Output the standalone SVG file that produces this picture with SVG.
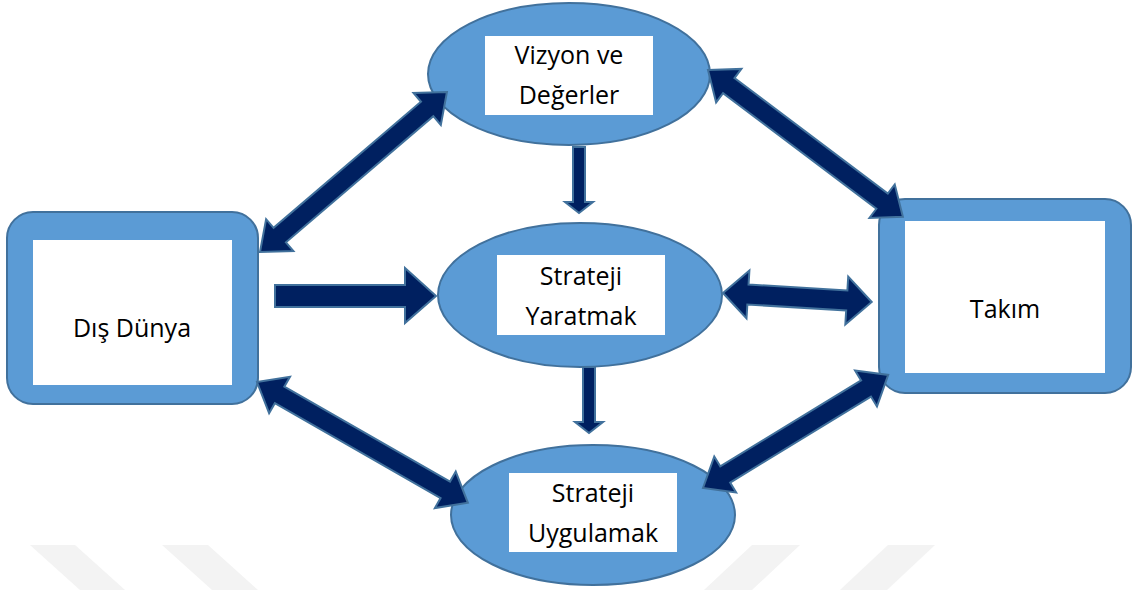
<svg xmlns="http://www.w3.org/2000/svg" width="1132" height="590" viewBox="0 0 1132 590">
  <style>
    .node { fill: #5B9BD5; stroke: #41719C; stroke-width: 2; }
    .inner { fill: #ffffff; }
    .label { font-family: "Open Sans", "Liberation Sans", sans-serif; font-size: 25px; fill: #000000; text-anchor: middle; }
    .arrow { fill: #002060; stroke: #41719C; stroke-width: 2; stroke-linejoin: miter; }
    .wm { fill: #f3f3f3; }
  </style>
  <rect width="1132" height="590" fill="#ffffff"/>
  <g id="watermark">
    <polygon class="wm" points="30,545 75,545 125,590 80,590"/>
    <polygon class="wm" points="162,545 208,545 258,590 212,590"/>
    <polygon class="wm" points="752,545 800,545 752,590 704,590"/>
    <polygon class="wm" points="888,545 935,545 887,590 840,590"/>
  </g>

  <g id="node-vizyon">
    <ellipse class="node" cx="569" cy="74" rx="141" ry="71"/>
    <rect class="inner" x="485" y="36" width="168" height="79"/>
    <text class="label" x="569" y="64">Vizyon ve</text>
    <text class="label" x="569" y="104">Değerler</text>
  </g>

  <g id="node-yaratmak">
    <ellipse class="node" cx="580" cy="295" rx="142" ry="72"/>
    <rect class="inner" x="497" y="255" width="168" height="80"/>
    <text class="label" x="581" y="285">Strateji</text>
    <text class="label" x="581" y="325">Yaratmak</text>
  </g>

  <g id="node-uygulamak">
    <ellipse class="node" cx="593" cy="515" rx="142" ry="70"/>
    <rect class="inner" x="509" y="473" width="168" height="79"/>
    <text class="label" x="593" y="502">Strateji</text>
    <text class="label" x="593" y="542">Uygulamak</text>
  </g>

  <g id="node-dis-dunya">
    <rect class="node" x="7" y="212" width="251" height="192" rx="26" ry="26"/>
    <rect class="inner" x="33" y="240" width="199" height="145"/>
    <text class="label" x="132" y="337">Dış Dünya</text>
  </g>

  <g id="node-takim">
    <rect class="node" x="879" y="199" width="252" height="194" rx="26" ry="26"/>
    <rect class="inner" x="905" y="221" width="200" height="152"/>
    <text class="label" x="1005" y="318">Takım</text>
  </g>

  <g id="connectors">
    <g transform="translate(260,252) rotate(-40.55)">
      <polygon class="arrow" points="0,0 26,-21 26,-9.5 220,-9.5 220,-21 246,0 220,21 220,9.5 26,9.5 26,21"/>
    </g>
    <g transform="translate(708,70) rotate(37)">
      <polygon class="arrow" points="0,0 26,-21 26,-9.5 218,-9.5 218,-21 244,0 218,21 218,9.5 26,9.5 26,21"/>
    </g>
    <g transform="translate(257,382) rotate(29.8)">
      <polygon class="arrow" points="0,0 26,-21 26,-9.5 217,-9.5 217,-21 243,0 217,21 217,9.5 26,9.5 26,21"/>
    </g>
    <g transform="translate(703,488) rotate(-31.4)">
      <polygon class="arrow" points="0,0 26,-21 26,-9.5 191,-9.5 191,-21 217,0 191,21 191,9.5 26,9.5 26,21"/>
    </g>
    <g transform="translate(723,293) rotate(3.46)">
      <polygon class="arrow" points="0,0 25,-24 25,-10 124,-10 124,-24 149,0 124,24 124,10 25,10 25,24"/>
    </g>
    <polygon class="arrow" points="275,285 405,285 405,268 436,296 405,323 405,307 275,307"/>
    <polygon class="arrow" points="573,147 585,147 585,202 593,202 579,213 565,202 573,202"/>
    <polygon class="arrow" points="583,367 595,367 595,422 603,422 589,433 575,422 583,422"/>
  </g>
</svg>
